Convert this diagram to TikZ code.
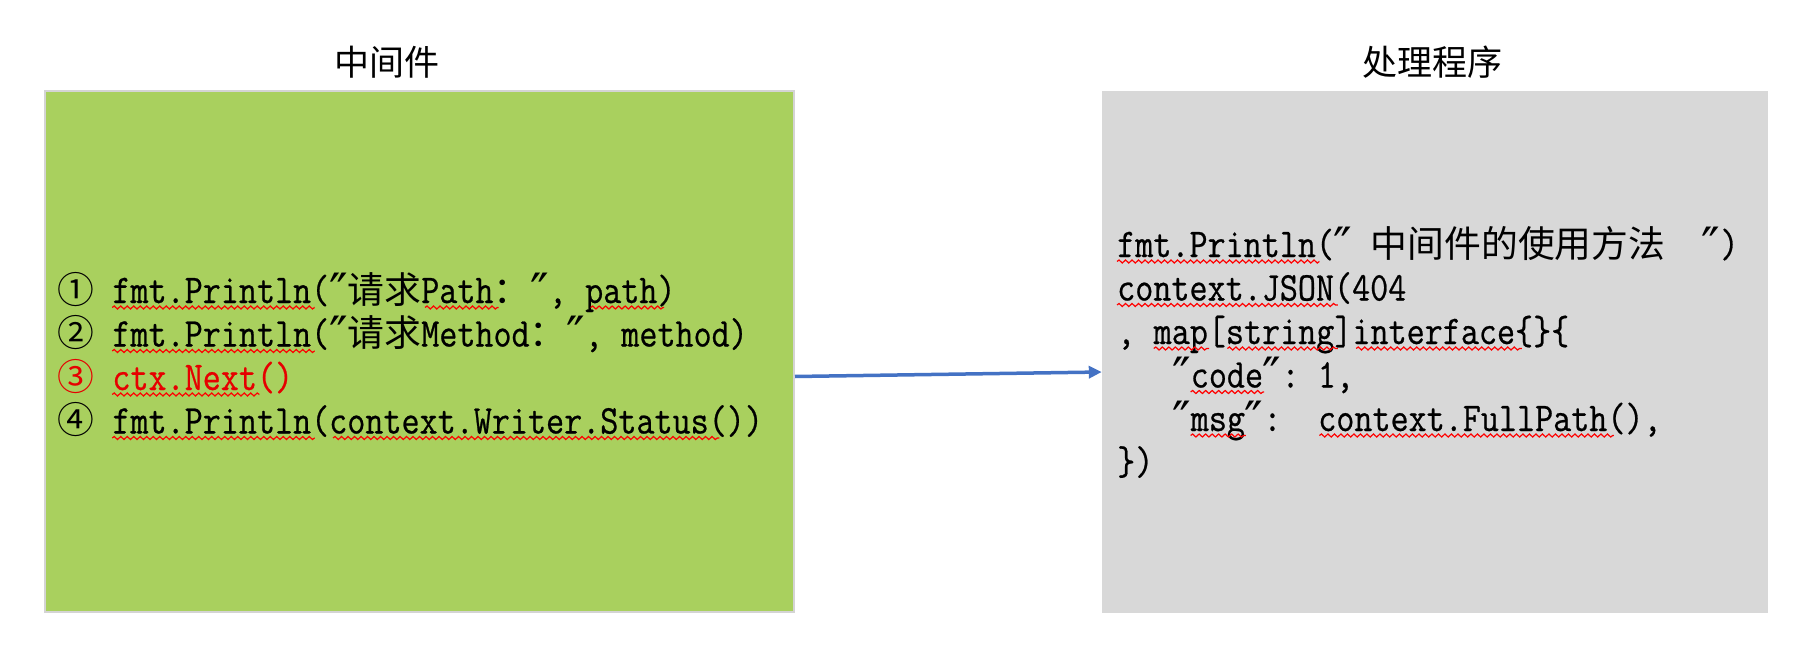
\documentclass[tikz,border=0pt]{standalone}
\usepackage{fontspec}
\usetikzlibrary{calc,decorations.pathmorphing,arrows.meta}
\newfontfamily\cjk{Noto Sans CJK SC}
\newfontfamily\qfont{DejaVu Sans}
\newfontfamily\codefont[FakeStretch=0.86,FakeBold=0.6]{Latin Modern Mono}
\definecolor{mwgreen}{HTML}{A9D05E}
\definecolor{mwline}{HTML}{D4D4D4}
\definecolor{hdgray}{HTML}{D8D8D8}
\definecolor{arrowblue}{HTML}{4472C4}
\definecolor{codered}{HTML}{E60000}
\newcommand\cj[1]{{\cjk\fontsize{36.8}{40}\selectfont\smash{#1}}}
\newcommand\qq{\makebox[18.4pt]{\qfont\fontsize{50}{44}\selectfont\smash{\raisebox{-6pt}{″}}}}
\newcommand\ks[1]{\hspace*{#1\dimexpr 18.4pt\relax}}
\newcommand\sqline[3]{\draw[squiggle] ($(#1.base west)+(#2*18.4,4.5)$) -- ($(#1.base west)+(#3*18.4,4.5)$);}
\begin{document}
\begin{tikzpicture}[x=1pt,y=-1pt,
  mwbox/.style={rectangle, fill=mwgreen, draw=mwline, line width=2pt, minimum width=749pt, minimum height=521pt, inner sep=0pt},
  hdbox/.style={rectangle, fill=hdgray, draw=none, minimum width=666pt, minimum height=522pt, inner sep=0pt},
  boxtitle/.style={inner sep=0pt, font={\cjk\fontsize{35}{40}\selectfont}},
  codeline/.style={anchor=base west, inner sep=0pt, font={\codefont\fontsize{40.8}{44}\selectfont}},
  squiggle/.style={draw=red, line width=1.2pt, decorate, decoration={snake, segment length=6.5pt, amplitude=1.5pt}},
  flow/.style={draw=arrowblue, line width=3.5pt, -{Triangle[length=13pt,width=12pt]}}]
\useasboundingbox (0,0) rectangle (1808,658);
\fill[white] (0,0) rectangle (1808,658);

\node[mwbox] (mw) at (419.5,351.5) {};
\node[hdbox] (hd) at (1435,352) {};

\node[boxtitle] (t1) at (387,62) {中间件};
\node[boxtitle] (t2) at (1432,62) {处理程序};

% middleware code
\node[codeline] (g1) at (57,303) {\cj{①}\ks{1}fmt.Println(\qq\cj{请求}Path\cj{：}\qq,\ks{1}path)};
\node[codeline] (g2) at (57,346.5) {\cj{②}\ks{1}fmt.Println(\qq\cj{请求}Method\cj{：}\qq,\ks{1}method)};
\node[codeline, text=codered] (g3) at (57,390) {\cj{③}\ks{1}ctx.Next()};
\node[codeline] (g4) at (57,433.5) {\cj{④}\ks{1}fmt.Println(context.Writer.Status())};

% handler code
\node[codeline] (h1) at (1117,257) {fmt.Println(\qq\ks{1}\cj{中间件的使用方法}\ks{2}\qq)};
\node[codeline] (h2) at (1117,300.5) {context.JSON(404};
\node[codeline] (h3) at (1117,344) {,\ks{1}map[string]interface\{\}\{};
\node[codeline] (h4) at (1117,387.5) {\ks{3}\qq code\qq:\ks{1}1,};
\node[codeline] (h5) at (1117,431) {\ks{3}\qq msg\qq:\ks{2}context.FullPath(),};
\node[codeline] (h6) at (1117,474.5) {\})};

% spell-check squiggles
\sqline{g1}{3}{14}
\sqline{g1}{20}{24}
\sqline{g1}{29}{33}
\sqline{g2}{3}{14}
\sqline{g3}{3}{11}
\sqline{g4}{3}{14}
\sqline{g4}{15}{36}
\sqline{h1}{0}{11}
\sqline{h2}{0}{12}
\sqline{h3}{2}{5}
\sqline{h3}{6}{12}
\sqline{h3}{13}{22}
\sqline{h4}{4}{8}
\sqline{h5}{4}{7}
\sqline{h5}{11}{27}

% connector
\draw[flow] ($(mw.east)+(0,25)$) -- ($(hd.west)+(0,20)$);
\end{tikzpicture}
\end{document}
